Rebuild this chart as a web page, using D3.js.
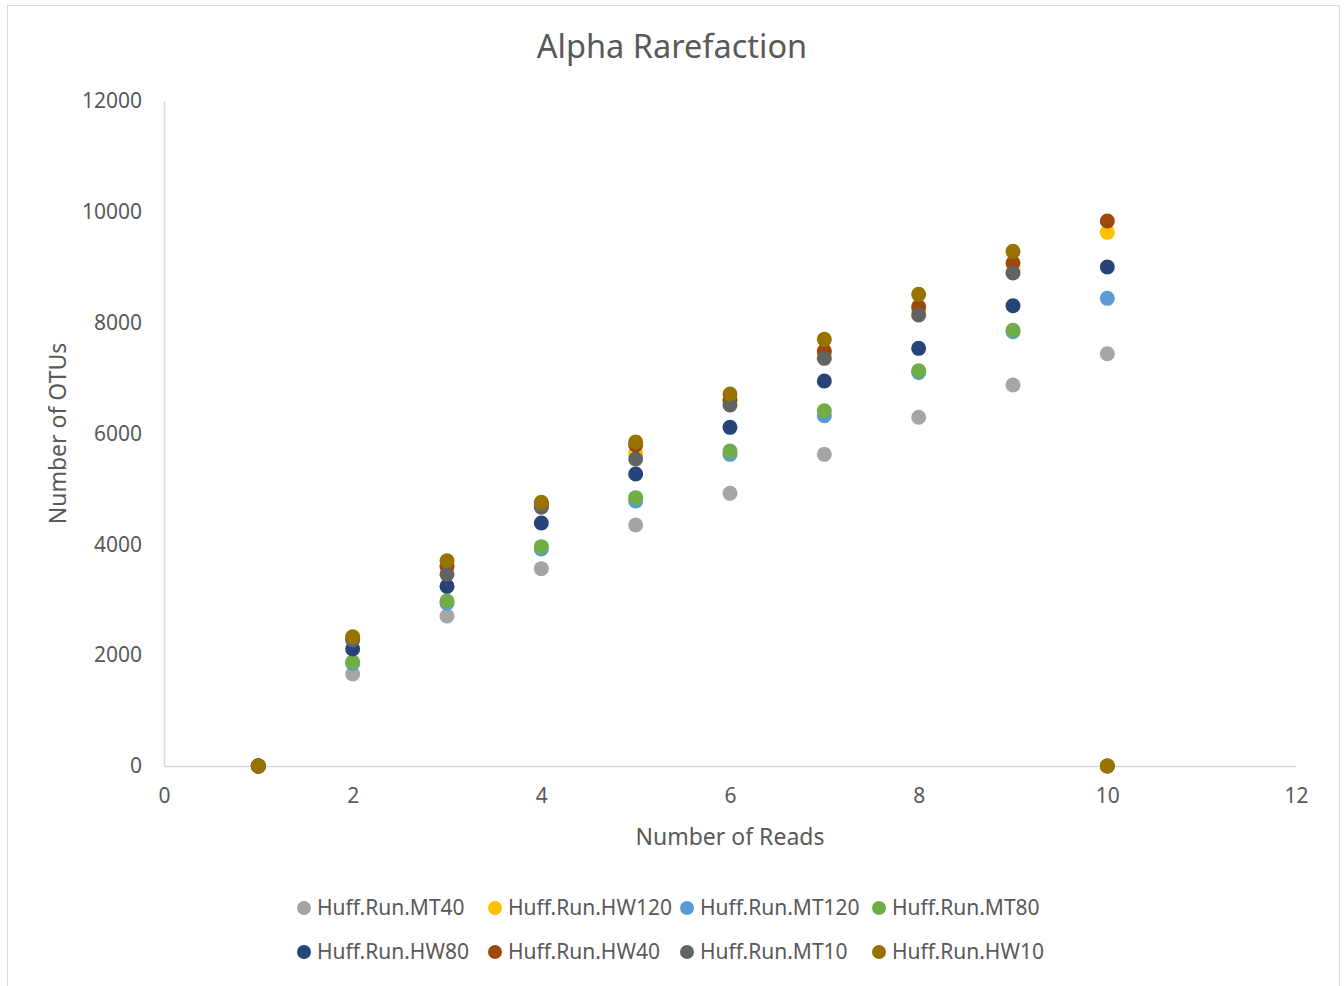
<!DOCTYPE html>
<html>
<head>
<meta charset="utf-8">
<script src="https://cdn.jsdelivr.net/npm/d3@7"></script>
<style>
  html, body { margin: 0; padding: 0; background: #fff; }
  svg { display: block; }
  text { font-family: "Noto Sans", "Liberation Sans", sans-serif; fill: #595959; }
</style>
</head>
<body>
<svg id="chart" width="1344" height="986"></svg>
<script>
// Rarefaction depth (x) shared by all series
const reads = [1, 2, 3, 4, 5, 6, 7, 8, 9, 10];

// OTU counts per sample
const MT40  = [0, 1660, 2707, 3561, 4349, 4920, 5624, 6292, 6875, 7440];
const HW120 = [0, 2300, 3590, 4710, 5642, 6590, 7450, 8220, 8920, 9630];
const MT120 = [0, 1850, 2940, 3915, 4782, 5624, 6321, 7103, 7836, 8439];
const MT80  = [0, 1877, 2977, 3958, 4842, 5684, 6411, 7133, 7862, 0];
const HW80  = [0, 2111, 3242, 4385, 5269, 6111, 6947, 7537, 8306, 9004];
const HW40  = [0, 2310, 3609, 4730, 5792, 6604, 7488, 8288, 9076, 9834];
const MT10  = [0, 2274, 3459, 4668, 5540, 6514, 7356, 8138, 8896, 0];
const HW10  = [0, 2333, 3705, 4758, 5846, 6712, 7699, 8511, 9287, 0];

const seriesNames = ["Huff.Run.MT40", "Huff.Run.HW120", "Huff.Run.MT120", "Huff.Run.MT80",
                     "Huff.Run.HW80", "Huff.Run.HW40", "Huff.Run.MT10", "Huff.Run.HW10"];
const seriesValues = [MT40, HW120, MT120, MT80, HW80, HW40, MT10, HW10];
const seriesColors = ["#A5A5A5", "#FFC000", "#5B9BD5", "#70AD47",
                      "#264478", "#9E480E", "#636363", "#997300"];

const xTicks = [0, 2, 4, 6, 8, 10, 12];
const yTicks = [0, 2000, 4000, 6000, 8000, 10000, 12000];

const svg = d3.select("#chart");

// chart frame
svg.append("rect")
  .attr("x", 7.5).attr("y", 5.5)
  .attr("width", 1332).attr("height", 1000)
  .attr("fill", "#fff").attr("stroke", "#d9d9d9").attr("stroke-width", 1);

const plot = { left: 164, right: 1296, top: 101, bottom: 766 };

const x = d3.scaleLinear().domain([0, 12]).range([plot.left, plot.right]);
const y = d3.scaleLinear().domain([0, 12000]).range([plot.bottom, plot.top]);

// title
svg.append("text")
  .attr("x", 672).attr("y", 58)
  .attr("text-anchor", "middle")
  .style("font-size", "32.5px")
  .text("Alpha Rarefaction");

// axes
const xAxis = d3.axisBottom(x).tickValues(xTicks).tickSize(0).tickPadding(22)
  .tickFormat(d3.format("d"));
const yAxis = d3.axisLeft(y).tickValues(yTicks).tickSize(0).tickPadding(22)
  .tickFormat(d3.format("d"));

const gx = svg.append("g").attr("transform", `translate(0,${plot.bottom})`).call(xAxis);
const gy = svg.append("g").attr("transform", `translate(${plot.left},0)`).call(yAxis);

[gx, gy].forEach(g => {
  g.select(".domain").attr("stroke", "#d9d9d9").attr("stroke-width", 1.5);
  g.selectAll("text").style("font-size", "21px").attr("fill", "#595959")
    .style("font-family", "'Noto Sans', 'Liberation Sans', sans-serif");
});

// axis titles
svg.append("text")
  .attr("x", (plot.left + plot.right) / 2).attr("y", 845)
  .attr("text-anchor", "middle")
  .style("font-size", "23px")
  .text("Number of Reads");

svg.append("text")
  .attr("transform", `translate(66,${(plot.top + plot.bottom) / 2}) rotate(-90)`)
  .attr("text-anchor", "middle")
  .style("font-size", "23px")
  .text("Number of OTUs");

// markers
const markers = svg.append("g");
seriesValues.forEach((vals, i) => {
  markers.append("g")
    .selectAll("circle")
    .data(vals.map((v, j) => ({ x: reads[j], y: v })))
    .join("circle")
    .attr("cx", d => x(d.x))
    .attr("cy", d => y(d.y))
    .attr("r", 7.5)
    .attr("fill", seriesColors[i]);
});

// legend
const legendCols = [304, 495, 687, 879];
const legendRows = [908, 952];
const legend = svg.append("g");
seriesNames.forEach((name, i) => {
  const cx = legendCols[i % 4];
  const cy = legendRows[Math.floor(i / 4)];
  const item = legend.append("g");
  item.append("circle")
    .attr("cx", cx).attr("cy", cy).attr("r", 7)
    .attr("fill", seriesColors[i]);
  item.append("text")
    .attr("x", cx + 13).attr("y", cy)
    .attr("dy", "0.35em")
    .style("font-size", "21px")
    .text(name);
});
</script>
</body>
</html>
